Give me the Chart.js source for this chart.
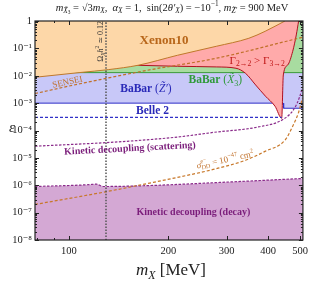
<!DOCTYPE html>
<html><head><meta charset="utf-8">
<script src="https://cdn.jsdelivr.net/npm/chart.js@4.4.1/dist/chart.umd.min.js"></script>
<style>html,body{margin:0;padding:0;background:#fff}canvas{display:block}</style>
</head><body>
<canvas id="c" width="313" height="283"></canvas>
<script>
// values: m_X in MeV, epsilon
const xenonMass = [79, 108, 132, 162, 213, 279, 350, 392, 450];
const xenonEps = [8.8e-3, 1.31e-2, 1.68e-2, 2.42e-2, 5.6e-2, 0.119, 0.234, 0.42, 1];
const gammaMass = [159, 213, 279, 320, 342, 367, 393, 420, 440, 445, 459, 475, 487, 495];
const gammaEps = [0.0242, 0.0222, 0.021, 0.0188, 0.0123, 4.6e-3, 1.79e-3, 7.7e-4, 2.8e-4, 0.0107, 0.0248, 0.078, 0.31, 1];
const babarXMass = [79, 510];
const babarXEps = [1.3e-2, 1.3e-2];
const babarZMass = [79, 444, 446, 510];
const babarZEps = [1e-3, 1e-3, 6.5e-4, 6.5e-4];
const belleMass = [79, 440];
const belleEps = [3e-4, 3e-4];
const senseiMass = [79, 108, 173, 279, 508];
const senseiEps = [2.24e-3, 5.1e-3, 1.59e-2, 4.36e-2, 0.254];
const scatterMass = [79, 141, 217, 273, 374, 445, 481, 498, 508];
const scatterEps = [2.67e-5, 3.84e-5, 5.9e-5, 8.5e-5, 1.35e-4, 2.58e-4, 6.5e-4, 1.64e-3, 3.5e-3];
const decayMass = [79, 115, 121, 127, 173, 299, 510];
const decayEps = [9.0e-7, 1.05e-6, 1.1e-6, 9.0e-7, 9.7e-7, 1.3e-6, 1.77e-6];
const sigmaMass = [79, 129, 173, 217, 273, 342, 393, 450, 475, 495, 508];
const sigmaEps = [1.99e-7, 5.74e-7, 1.16e-6, 2.03e-6, 3.78e-6, 8.2e-6, 1.76e-5, 4.4e-5, 1.43e-4, 4.66e-4, 1.5e-3];
const relicMass = [129.5, 129.5];
const relicEps = [1e-8, 1];

const xTickValues = [80, 90, 100, 200, 300, 400, 500];
const xTickLabels = ['100', '200', '300', '400', '500'];
const yTickLabels = ['10⁻⁸', '10⁻⁷', '10⁻⁶', '10⁻⁵', '10⁻⁴', '10⁻³', '10⁻²', '10⁻¹', '1'];

const fam = '"Liberation Serif", "DejaVu Serif", serif';
const pts = (xs, ys) => xs.map((x, i) => ({x: x, y: ys[i]}));

function rich(ctx, parts, x, y, size, color, angle) {
    const sz = {0: 1, 1: 0.7, '-1': 0.7, '-2': 0.5};
    const rise = {0: 0, 1: -0.38, '-1': 0.28, '-2': 0.45};
    const fontOf = (st, s) => (st.indexOf('i') >= 0 ? 'italic ' : '') + (st.indexOf('b') >= 0 ? 'bold ' : '') + (size * sz[s]).toFixed(1) + 'px ' + fam;
    const widthOf = p => {
        ctx.font = fontOf(p[1] || '', p[2] || 0);
        let w = ctx.measureText(p[0]).width;
        if (p[3]) { ctx.font = fontOf('', 1); w = Math.max(w, ctx.measureText(p[3]).width); }
        return w;
    };
    let w = 0;
    parts.forEach(p => { w += widthOf(p); });
    ctx.save();
    ctx.translate(x, y);
    ctx.rotate((angle || 0) * Math.PI / 180);
    ctx.fillStyle = color;
    ctx.textBaseline = 'middle';
    ctx.textAlign = 'left';
    let cx = -w / 2;
    parts.forEach(p => {
        const s = p[2] || 0;
        const pw = widthOf(p);
        ctx.font = fontOf(p[1] || '', s);
        ctx.fillText(p[0], cx, rise[s] * size);
        if (p[3]) { ctx.font = fontOf('', 1); ctx.fillText(p[3], cx, rise[1] * size); }
        cx += pw;
    });
    ctx.restore();
}

const decor = {
    id: 'decor',
    afterDraw(chart) {
        const ctx = chart.ctx;
        const a = chart.chartArea;
        const xs = chart.scales.x, ys = chart.scales.y;
        const P = (m, e) => [xs.getPixelForValue(m), ys.getPixelForValue(e)];
        ctx.save();
        ctx.strokeStyle = '#222';
        ctx.lineWidth = 1;
        ys.ticks.forEach(t => {
            const y = Math.round(ys.getPixelForValue(t.value)) + 0.5;
            const len = t.label ? 4 : 2;
            ctx.beginPath();
            ctx.moveTo(a.left, y); ctx.lineTo(a.left + len, y);
            ctx.moveTo(a.right, y); ctx.lineTo(a.right - len, y);
            ctx.stroke();
        });
        xs.ticks.forEach(t => {
            const x = Math.round(xs.getPixelForValue(t.value)) + 0.5;
            const len = t.label ? 4 : 2;
            ctx.beginPath();
            ctx.moveTo(x, a.bottom); ctx.lineTo(x, a.bottom - len);
            ctx.moveTo(x, a.top); ctx.lineTo(x, a.top + len);
            ctx.stroke();
        });
        ctx.lineWidth = 1.2;
        ctx.strokeRect(a.left, a.top, a.right - a.left, a.bottom - a.top);
        ctx.restore();

        let p;
        p = P(194, 0.198); rich(ctx, [['Xenon10', 'b']], p[0], p[1], 13, '#b8661a');
        p = P(371, 0.0338); rich(ctx, [['Γ', ''], ['2→2', '', -1], [' > Γ', ''], ['3→2', '', -1]], p[0], p[1], 11, '#c01818');
        p = P(277, 6.85e-3); rich(ctx, [['BaBar ', 'b'], ['(', ''], ['X̃', 'i'], ['3', '', -1], [')', '']], p[0], p[1], 11.5, '#2f9a3a');
        p = P(171, 3.2e-3); rich(ctx, [['BaBar ', 'b'], ['(', ''], ['Z̃′', 'i'], [')', '']], p[0], p[1], 11.5, '#2a2ab8');
        p = P(179, 5.06e-4); rich(ctx, [['Belle 2', 'b']], p[0], p[1], 11.5, '#2a2ab8');
        p = P(99, 5.8e-3); rich(ctx, [['SENSEI', '']], p[0], p[1], 9, '#c0702a', -12.5);
        p = P(125, 0.18); rich(ctx, [['Ω', ''], ['X', 'i', -1], ['h', 'i'], ['2', '', 1], [' ≃ 0.12', '']], p[0], p[1], 8, '#333', -90);
        p = P(153, 2.17e-5); rich(ctx, [['Kinetic decoupling (scattering)', 'b']], p[0], p[1], 10, '#7b1e7b', -3);
        p = P(238, 1.04e-7); rich(ctx, [['Kinetic decoupling (decay)', 'b']], p[0], p[1], 10, '#7b1e7b');
        p = P(297, 8.24e-6); rich(ctx, [['σ', 'i'], ['DD', '', -1, 'e⁻'], [' = 10', ''], ['−47', '', 1], [' cm', ''], ['2', '', 1]], p[0], p[1], 9, '#c0702a', -12);

        rich(ctx, [['ε', 'i']], 12, 128, 15, '#222');
        rich(ctx, [['m', 'i'], ['X', 'i', -1], [' [MeV]', '']], 171, 271, 17, '#222');
        rich(ctx, [['m', 'i'], ['X̃', 'i', -1], ['3', '', -2], [' = √3', ''], ['m', 'i'], ['X', 'i', -1], [',  ', ''],
            ['α', 'i'], ['X', 'i', -1], [' = 1,  sin(2', ''], ['θ′', 'i'], ['X', 'i', -1], [') = −10', ''], ['−1', '', 1],
            [', ', ''], ['m', 'i'], ['Z̃′', 'i', -1], [' = 900 MeV', '']], 172, 8, 10.5, '#222');
    }
};

const curve = {pointRadius: 0, borderWidth: 1, cubicInterpolationMode: 'monotone'};

new Chart(document.getElementById('c'), {
    type: 'scatter',
    data: {
        datasets: [
            Object.assign({}, curve, {data: pts(relicMass, relicEps), showLine: true, borderColor: '#555', borderWidth: 1.5, borderDash: [1.5, 1.5], fill: false, order: 0}),
            Object.assign({}, curve, {data: pts(sigmaMass, sigmaEps), showLine: true, borderColor: '#c8782a', borderWidth: 1.2, borderDash: [3, 2], fill: false, order: 1}),
            Object.assign({}, curve, {data: pts(scatterMass, scatterEps), showLine: true, borderColor: '#8b2c8b', borderWidth: 1.2, borderDash: [2.5, 1.5], fill: false, order: 2}),
            Object.assign({}, curve, {data: pts(decayMass, decayEps), showLine: true, borderColor: '#8b2c8b', borderWidth: 1.2, borderDash: [2.5, 1.5], backgroundColor: '#d4a8d4', fill: 'start', order: 3}),
            Object.assign({}, curve, {data: pts(belleMass, belleEps), showLine: true, borderColor: '#3030c8', borderWidth: 1.2, borderDash: [3, 2], fill: false, order: 4}),
            Object.assign({}, curve, {data: pts(senseiMass, senseiEps), showLine: true, borderColor: '#c0702a', borderWidth: 1.2, borderDash: [3, 2], fill: false, order: 5}),
            Object.assign({}, curve, {data: pts(xenonMass, xenonEps), showLine: true, borderColor: '#c0782a', backgroundColor: '#fdd7a8', fill: 'end', order: 6}),
            Object.assign({}, curve, {data: pts(gammaMass, gammaEps), showLine: true, borderColor: '#b01020', backgroundColor: '#ffaaaa', fill: 'end', order: 7}),
            Object.assign({}, curve, {data: pts(babarXMass, babarXEps), showLine: true, borderColor: '#3a9a3a', backgroundColor: '#a8dca0', fill: 'end', order: 8}),
            Object.assign({}, curve, {data: pts(babarZMass, babarZEps), showLine: true, borderColor: '#3030c8', backgroundColor: '#c8c8f8', fill: 'end', cubicInterpolationMode: 'default', tension: 0, order: 9})
        ]
    },
    options: {
        responsive: false,
        animation: false,
        devicePixelRatio: 1,
        layout: {padding: {top: 21, right: 5, left: 0, bottom: 0}},
        plugins: {legend: {display: false}, tooltip: {enabled: false}},
        scales: {
            x: {
                type: 'logarithmic', min: 79, max: 510,
                grid: {display: false, drawTicks: false},
                border: {display: false},
                afterBuildTicks: s => { s.ticks = xTickValues.map(v => ({value: v})); },
                afterFit: s => { s.height = 43; },
                ticks: {
                    autoSkip: false, maxRotation: 0, padding: 5, color: '#222',
                    font: {family: fam, size: 10.5},
                    callback: v => xTickLabels.indexOf(String(v)) >= 0 ? String(v) : ''
                }
            },
            y: {
                type: 'logarithmic', min: 1e-8, max: 1,
                grid: {display: false, drawTicks: false},
                border: {display: false},
                afterBuildTicks: s => {
                    const t = [];
                    for (let e = -8; e <= 0; e++) {
                        for (let k = 1; k <= 9; k++) {
                            if (e === 0 && k > 1) break;
                            t.push({value: k * Math.pow(10, e)});
                        }
                    }
                    s.ticks = t;
                },
                afterFit: s => { s.width = 35; },
                ticks: {
                    autoSkip: false, padding: 3, color: '#222',
                    font: {family: fam, size: 10.5},
                    callback: v => {
                        const e = Math.round(Math.log10(v));
                        return Math.abs(v / Math.pow(10, e) - 1) < 1e-6 ? yTickLabels[e + 8] : '';
                    }
                }
            }
        }
    },
    plugins: [decor]
});
</script>
</body></html>
